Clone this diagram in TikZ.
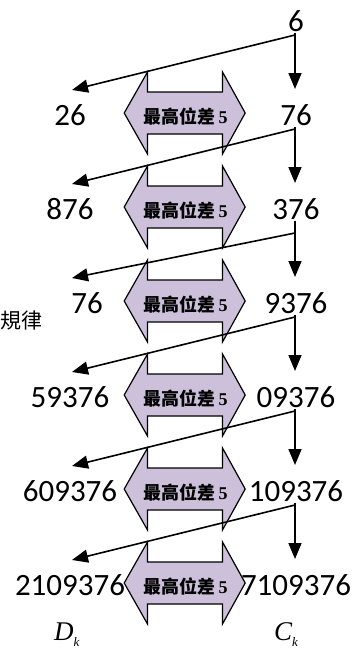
\documentclass[tikz,border=0pt]{standalone}
\usepackage{fontspec}
\usetikzlibrary{arrows.meta}
\setmainfont{Carlito}
\newfontfamily\cjk{Noto Sans CJK TC}
\newfontfamily\lserif{Liberation Serif}
\definecolor{lav}{RGB}{204,192,218}
\begin{document}
\begin{tikzpicture}[x=1pt,y=-1pt,
  num/.style={font=\fontsize{31}{31}\selectfont, inner sep=0pt, anchor=base},
  hexa/.style={draw=black, line width=1.2pt, fill=lav, line join=miter},
  lbl/.style={font=\cjk\bfseries\fontsize{18}{18}\selectfont, inner sep=0pt},
  arr/.style={line width=1.6pt, -{Triangle[width=13pt,length=16pt]}},
  sym/.style={font=\lserif\itshape\fontsize{27}{27}\selectfont, inner sep=0pt, anchor=base west}]
\useasboundingbox (0,0) rectangle (353,648);
% double arrow shapes
\foreach \i in {0,...,5} {
  \pgfmathsetmacro\cy{113+94*\i}
  \draw[hexa] (124.2,\cy) -- ++(23.3,-41) -- ++(0,20) -- ++(75,0) -- ++(0,-20)
     -- ++(22.7,41) -- ++(-22.7,41) -- ++(0,-20) -- ++(-75,0) -- ++(0,20) -- cycle;
  \node[lbl] (m\i) at (185.5,\cy+3) {最高位差\,{\lserif\bfseries 5}};
}
% right column
\node[num] (r0) at (296,31) {6};
\node[num] (r1) at (296,125) {76};
\node[num] (r2) at (296,219) {376};
\node[num] (r3) at (296,313) {9376};
\node[num] (r4) at (296,407) {09376};
\node[num] (r5) at (296,501) {109376};
\node[num] (r6) at (296,595) {7109376};
% left column
\node[num] (l1) at (70,125) {26};
\node[num] (l2) at (70,219) {876};
\node[num] (l3) at (87,313) {76};
\node[num] (l4) at (70,407) {59376};
\node[num] (l5) at (70,501) {609376};
\node[num] (l6) at (70,595) {2109376};
% arrows
\foreach \i/\sy in {0/35,1/129,2/233,3/317,4/411,5/505} {
  \pgfmathsetmacro\vy{33+94*\i}
  \pgfmathsetmacro\dy{89+94*\i}
  \pgfmathsetmacro\ly{90+94*\i}
  \coordinate (v\i) at (295,\vy);
  \coordinate (s\i) at (295,\sy);
  \coordinate (d\i) at (295,\dy);
  \coordinate (t\i) at (72,\ly);
  \draw[arr] (v\i) -- (d\i);
  \draw[arr] (s\i) -- (t\i);
}
% side text
\node[font=\cjk\fontsize{21}{21}\selectfont, inner sep=0pt, anchor=east] (rule) at (43,321) {規律};
% axis labels
\node[sym] (dk) at (54,640) {D\raisebox{-6pt}{\fontsize{13}{13}\selectfont k}};
\node[sym] (ck) at (274,640) {C\raisebox{-6pt}{\fontsize{13}{13}\selectfont k}};
\end{tikzpicture}
\end{document}
